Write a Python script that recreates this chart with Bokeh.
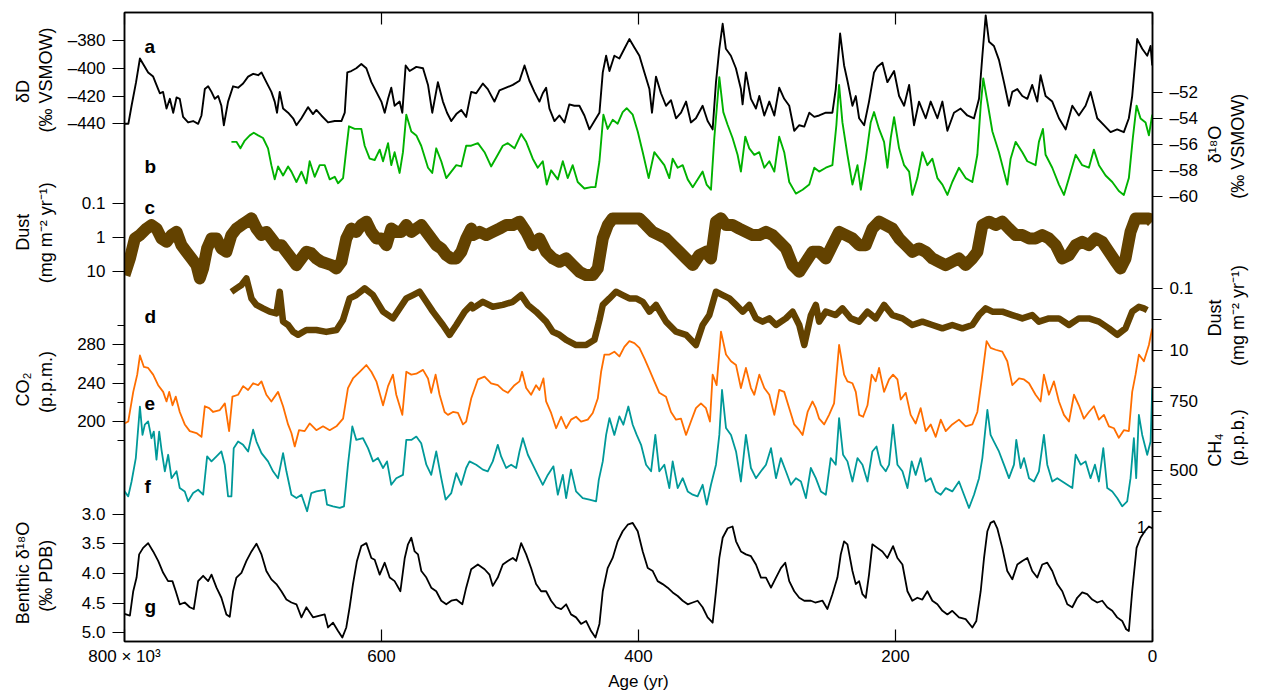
import math
from bokeh.plotting import figure
from bokeh.models import (Range1d, LinearAxis, FixedTicker, Label, LogScale, LinearScale,
                          CustomLabelingPolicy)
from bokeh.embed import file_html
from bokeh.resources import INLINE

# ---------------- data (age in kyr BP, value) ----------------
dD_record = [
(800,-440),(797,-440),(794.5,-427),(791,-410),(788,-393),(785.5,-397),(781.6,-403),(777.7,-406),(773.8,-415),(772.5,-418),
(770,-417),(767.3,-429),(764.7,-422),(762.1,-432),(759.5,-421),(757,-422),(754.4,-435),(750.5,-439),(746.6,-438),(742.7,-440),
(740.1,-434),(737.5,-415),(734.9,-413),(732.3,-417),(729.7,-422),(727.1,-420),(724.6,-427),(722.7,-441),(719.4,-424),(715.5,-413),
(711.6,-414),(707.7,-411),(703.8,-406),(699.9,-404),(696,-405),(693.4,-403),(689.6,-410),(685.7,-417),(683.1,-424),(681.3,-432),
(679.2,-417),(676.6,-429),(672.7,-432),(668.8,-436),(666.2,-441),(662.3,-436),(657.2,-428),(653.3,-433),(650.7,-430),(646.8,-434),
(641.6,-439),(636.4,-438),(631.2,-438),(628.6,-432),(626.6,-403),(623.5,-402),(619.6,-400),(615.7,-397),(611.8,-400),(607.9,-410),
(604,-417),(600.1,-424),(597.5,-432),(594.9,-422),(592.4,-414),(589.8,-427),(585.9,-424),(583.8,-432),(581.2,-398),(578.1,-402),
(572.9,-399),(567.7,-400),(563.8,-412),(560.5,-432),(556.1,-410),(552.2,-424),(549,-432),(545.7,-438),(541.8,-433),(537.9,-430),
(534.1,-435),(530.2,-417),(526.3,-418),(521.1,-411),(517.3,-415),(512.1,-424),(508.2,-416),(503,-414),(497.8,-412),(492.6,-409),
(488.7,-398),(484.9,-409),(481,-417),(477.1,-424),(474.5,-418),(471.9,-414),(469.3,-429),(465.4,-438),(461.5,-434),(457.6,-439),
(453.8,-426),(449.9,-427),(446,-427),(442.1,-434),(438.2,-444),(434.3,-438),(430.4,-432),(427.8,-403),(425.2,-391),(422.6,-402),
(418.8,-391),(414.9,-393),(411,-386),(407.1,-379),(403.2,-385),(399.3,-391),(395.4,-403),(391.5,-415),(389.5,-432),(386.4,-406),
(382.5,-418),(378.6,-427),(374.7,-423),(370.8,-436),(366.9,-432),(363,-424),(359.2,-439),(355.3,-436),(350.1,-427),(346.2,-438),
(342.3,-444),(339.7,-410),(337.1,-386),(334.5,-368),(332,-386),(328.1,-391),(324.2,-400),(320.3,-415),(319,-426),(316.4,-403),
(312.5,-422),(308.6,-429),(306,-420),(302.1,-434),(298.2,-424),(294.3,-434),(290.5,-414),(286.6,-422),(282.7,-427),(278.8,-445),
(274.9,-441),(271,-442),(267.1,-432),(263.2,-435),(259.4,-434),(254.2,-432),(249.1,-432),(246.5,-415),(243.1,-375),(240,-398),
(237.4,-409),(233.5,-427),(230.9,-420),(228.3,-436),(224.4,-441),(220.6,-424),(216.7,-403),(214.1,-399),(210.2,-396),(206.3,-410),
(201.1,-402),(197.2,-420),(193.3,-427),(189.4,-412),(185.6,-441),(181.7,-424),(176.5,-436),(172.6,-424),(167.4,-436),(163.5,-424),
(159.6,-445),(154.5,-432),(149.3,-429),(144.1,-434),(138.9,-436),(135,-422),(132.4,-391),(129.8,-362),(127.2,-381),(123.4,-384),
(119.5,-394),(115.6,-410),(111.7,-427),(109.1,-417),(105.2,-415),(101.3,-420),(97.4,-422),(93.6,-412),(89.7,-424),(87.1,-405),
(83.2,-420),(78,-424),(72.8,-436),(67.6,-444),(62.4,-427),(57.3,-434),(52.1,-427),(48.2,-417),(43,-436),(37.8,-441),
(32.6,-446),(27.5,-444),(22.3,-446),(18.4,-436),(15.8,-420),(11.9,-379),(8,-386),(4.1,-391),(1.5,-384),(0.2,-398)]

d18O_record = [
(716.8,-55.8),(712.9,-55.8),(709.8,-56.3),(706.4,-55.7),(702.5,-55.3),(699.4,-55.1),(696,-55.3),(692.2,-55.5),(688.3,-56.3),(685.7,-57.6),
(683.1,-58.7),(680.5,-57.7),(676.6,-58.4),(672.7,-57.7),(670.1,-58.1),(666.2,-58.9),(662.3,-58.1),(658.5,-59.0),(655.9,-57.3),(652,-58.5),
(648.1,-57.6),(644.2,-57.6),(640.3,-58.7),(636.4,-58.5),(633.8,-59.0),(629.9,-58.6),(627.3,-56.3),(625.3,-54.6),(620.9,-54.8),(615.7,-54.8),
(613.1,-56.1),(609.2,-57.1),(605.3,-57.2),(601.4,-56.4),(598.8,-57.3),(594.9,-55.9),(592.4,-57.6),(589.8,-56.6),(585.9,-58.2),(583.3,-56.6),
(580.7,-53.7),(576.8,-55.0),(572.9,-55.3),(569.1,-56.1),(563.8,-57.8),(560.5,-58.2),(557.4,-56.3),(553.5,-57.3),(549.6,-58.6),(545.7,-58.1),
(541.8,-57.6),(537.9,-57.7),(534.1,-56.1),(530.2,-56.1),(525,-55.9),(519.8,-56.6),(514.7,-57.7),(509.5,-56.8),(505.6,-56.1),(501.7,-55.9),
(496.5,-56.3),(491.3,-55.2),(487.4,-55.8),(482.3,-57.1),(478.4,-57.8),(474.5,-57.3),(471.4,-59.1),(468,-58.0),(462.8,-58.7),(458.9,-57.3),
(455.1,-58.6),(451.2,-57.6),(447.3,-58.9),(442.1,-59.4),(436.9,-59.3),(433.5,-59.3),(430.4,-57.3),(427.3,-53.7),(424,-54.8),(420.1,-54.1),
(416.2,-54.4),(412.3,-53.5),(409.2,-53.2),(404.5,-53.7),(400.6,-55.0),(396.7,-56.6),(392.1,-58.6),(387.7,-56.6),(383.8,-57.1),(379.9,-57.6),
(376,-58.6),(373.4,-57.1),(369.5,-57.8),(365.6,-57.6),(361.7,-58.7),(357.8,-59.3),(354,-58.7),(350.1,-58.1),(347,-59.1),(343.6,-59.5),
(341,-55.5),(337.1,-50.8),(334,-53.5),(330.6,-54.5),(326.8,-55.5),(322.9,-56.8),(320.3,-58.1),(316.9,-55.4),(313.8,-56.3),(309.9,-56.8),
(306,-56.6),(302.1,-57.8),(298.2,-57.3),(294.3,-58.1),(290.5,-55.4),(286.6,-56.6),(282.7,-58.9),(277.5,-59.8),(272.3,-59.5),(267.1,-59.1),
(263.2,-57.8),(259.4,-58.1),(254.2,-57.8),(249.1,-57.6),(246,-54.5),(243.9,-51.4),(241.3,-54.3),(237.4,-56.8),(233.5,-59.1),(229.6,-57.6),
(227,-59.5),(223.1,-57.1),(219.3,-54.3),(216.7,-53.5),(212.8,-54.8),(208.9,-55.8),(206.3,-57.8),(203.7,-55.5),(201.1,-53.9),(197.2,-56.3),
(193.3,-57.6),(189.4,-58.1),(186.9,-59.9),(183,-58.6),(179.1,-56.6),(175.2,-57.6),(171.3,-57.1),(167.4,-58.6),(163.5,-59.1),(159.6,-59.9),
(155.8,-58.9),(150.6,-57.8),(145.4,-58.6),(140.2,-58.9),(136.3,-56.8),(133.7,-53.0),(131.7,-50.9),(128.5,-52.7),(124.6,-55.0),(119.5,-56.6),
(115.6,-58.1),(113,-59.1),(110.4,-57.1),(106.5,-55.8),(101.3,-56.6),(97.4,-57.3),(91,-57.6),(88.4,-55.8),(85.3,-54.8),(83.2,-56.8),
(78,-57.8),(72.8,-59.1),(68.9,-59.9),(65,-58.6),(59.8,-56.8),(54.7,-57.6),(49.5,-57.8),(45.6,-56.4),(41.7,-57.6),(36.5,-58.4),
(31.3,-58.9),(26.2,-59.6),(22.3,-59.9),(18.4,-58.6),(15.3,-55.5),(12.4,-53.0),(9.3,-54.0),(5.4,-54.3),(2.8,-55.3),(0.2,-53.7)]

dust_c_record = [
(800,13.1),(795.8,4.24),(791.9,1.09),(788,0.87),(782.9,0.56),(779,0.44),(775.1,0.56),(771.2,1.09),(767.3,1.37),(763.4,0.87),
(759.5,0.70),(755.7,1.72),(751.8,2.70),(747.9,4.24),(744,6.67),(741.4,16.4),(738.8,8.36),(735.7,2.15),(732.3,1.09),(728.4,1.09),
(724.6,2.15),(720.7,2.70),(716.8,0.87),(712.9,0.56),(709,0.44),(705.1,0.35),(701.2,0.28),(697.3,0.56),(693.4,0.87),(689.6,0.70),
(685.7,1.09),(681.8,1.72),(677.9,1.72),(674,2.70),(670.1,4.24),(666.2,6.67),(662.3,4.24),(658.5,2.70),(654.6,3.0),(650.7,4.24),
(646.8,5.31),(642.9,5.94),(639,6.67),(635.1,8.36),(631.2,5.31),(627.4,1.09),(623.5,0.56),(619.6,0.70),(615.7,0.44),(611.8,0.35),
(607.9,0.70),(604,1.09),(600.1,1.09),(596.2,1.72),(592.4,0.56),(588.5,0.70),(584.6,0.70),(580.7,0.44),(576.8,0.70),(572.9,0.56),
(569,0.44),(565.1,0.70),(561.3,1.09),(557.4,1.72),(553.5,2.15),(549.6,3.38),(545.7,4.24),(541.8,4.24),(537.9,2.70),(534,1.09),
(530.2,0.56),(528.9,0.87),(523.7,0.70),(518.5,0.87),(513.4,0.70),(508.2,0.56),(503,0.44),(497.8,0.44),(492.6,0.35),(487.4,0.70),
(482.3,1.72),(477.1,1.09),(471.9,2.70),(466.7,4.24),(461.5,5.31),(456.3,4.24),(451.2,6.67),(446,10.5),(440.8,13.1),(435.6,13.1),
(431.7,8.36),(427.8,1.09),(423.9,0.44),(420.1,0.28),(414.9,0.28),(409.7,0.28),(404.5,0.28),(399.3,0.28),(394.1,0.44),(389,0.70),
(383.8,0.87),(378.6,1.09),(373.4,1.72),(368.2,2.70),(363,4.24),(357.8,6.67),(352.7,3.38),(347.5,2.70),(343.6,4.24),(339.7,0.35),
(335.8,0.28),(331.9,0.44),(326.8,0.44),(321.6,0.56),(316.4,0.70),(311.2,0.87),(306,0.87),(300.8,0.70),(295.6,0.87),(290.5,1.37),
(285.3,2.15),(280.1,6.67),(274.9,10.5),(269.7,5.31),(264.6,2.70),(259.4,2.70),(254.2,4.24),(249.1,1.72),(243.9,0.70),(238.7,0.87),
(233.5,1.09),(228.3,1.72),(223.1,1.72),(218,0.56),(212.8,0.35),(207.6,0.44),(202.4,0.56),(197.2,1.09),(192,1.72),(186.9,2.70),
(181.7,2.15),(176.5,2.70),(171.3,4.24),(166.1,5.31),(161,6.67),(155.8,5.31),(150.6,4.24),(145.4,6.67),(140.2,4.24),(136.3,2.70),
(132.4,0.44),(127.2,0.35),(122.1,0.44),(116.9,0.35),(111.7,0.56),(106.5,0.87),(101.3,0.87),(96.1,1.09),(91,1.09),(85.8,0.87),
(80.6,1.09),(75.4,1.72),(70.2,4.24),(65,3.38),(59.8,1.72),(54.7,1.37),(49.5,1.72),(44.3,1.09),(39.1,1.37),(33.9,2.70),
(28.7,5.31),(24.9,8.36),(21,4.24),(17.1,0.70),(13.2,0.28),(8,0.28),(2.8,0.28),(0.2,0.35)]

dust_d_record = [
(716.8,0.13),(712.9,0.10),(709,0.078),(705.1,0.048),(701.2,0.21),(697.3,0.34),(692.2,0.44),(687,0.56),(681.8,0.64),(679.2,0.128),
(676.6,1.17),(672.7,1.5),(668.8,2.46),(665,3.1),(658.5,2.17),(650.7,2.17),(643,2.5),(635,2.17),(630,1.04),(624.8,0.21),
(619.6,0.164),(613.1,0.10),(606.6,0.164),(598.8,0.56),(591.1,0.92),(585.9,0.44),(580.7,0.21),(575.5,0.164),(570.3,0.128),(565.1,0.27),
(560,0.56),(552.2,1.5),(547,3.1),(541.8,1.5),(535.3,0.56),(530.2,0.34),(528.9,0.44),(521.1,0.27),(513.4,0.39),(505.6,0.34),
(497.8,0.27),(491.3,0.164),(486.1,0.34),(479.7,0.56),(471.9,1.17),(466.7,2.46),(461.5,3.1),(456.3,4.5),(448.6,6.6),(440.8,6.6),
(434.3,4.5),(430.4,1.04),(427.8,0.34),(422.6,0.21),(417.5,0.128),(412.3,0.164),(407.1,0.21),(401.9,0.21),(396.7,0.27),(391.5,0.56),
(386.4,0.34),(378.6,1.17),(370.8,2.46),(363,3.1),(355.3,6.6),(350.1,1.5),(344.9,0.72),(339.7,0.128),(334.5,0.164),(329.3,0.21),
(324.1,0.34),(318.9,0.56),(313.8,0.34),(308.6,0.92),(303.4,1.17),(298.2,0.92),(293,1.5),(285.3,0.92),(280.1,0.56),(274.9,1.5),
(271,6.6),(265.8,0.72),(262,0.34),(259.4,1.17),(254.2,0.56),(246.5,0.72),(241.3,0.44),(234.8,0.92),(228.3,1.17),(221.8,0.56),
(215.4,0.92),(208.9,0.34),(202.4,0.72),(194.6,0.92),(186.9,1.5),(179.1,1.17),(171.3,1.5),(163.5,1.92),(155.8,1.5),(148,1.92),
(140.2,1.5),(135,0.72),(129.8,0.44),(124.6,0.56),(116.9,0.56),(109.1,0.72),(101.3,0.92),(93.6,0.72),(88.4,1.17),(80.6,0.92),
(72.8,0.92),(65,1.5),(57.3,0.92),(49.5,0.92),(41.7,1.17),(33.9,1.92),(27.5,3.1),(21,1.92),(15.8,0.56),(10.6,0.39),
(6.7,0.44),(4.1,0.5)]

co2_record = [
(800,198),(797.1,200),(793.2,231),(790.1,249),(788,269),(784.9,257),(781.6,256),(777.7,249),(773.8,238),(769.9,231),
(767.3,221),(765.2,231),(762.6,217),(760.1,226),(757,210),(753.1,197),(749.2,190),(744,188),(740.1,184),(737.5,216),
(734.1,214),(731,210),(725.8,212),(721.9,219),(718.6,190),(716,226),(711.6,228),(707.7,237),(703.8,233),(699.9,240),
(696,238),(693.4,242),(689.6,228),(685.7,221),(680.5,231),(676.6,216),(672.7,197),(670.1,188),(667.5,174),(664.2,191),
(659.8,190),(655.9,198),(650.7,191),(645.5,195),(640.3,191),(635.1,195),(629.9,203),(626.1,235),(622.2,245),(617,252),
(611.8,259),(607.9,252),(604,242),(598.8,217),(594.9,237),(591.1,249),(588.5,228),(583.8,207),(580.7,252),(576.8,249),
(572.9,250),(567.7,254),(563.8,245),(561.3,230),(557.9,249),(554.8,228),(550.9,210),(548.3,207),(544.4,210),(540.5,209),
(536.6,197),(534.1,200),(530.2,224),(525,244),(519.8,247),(514.7,240),(509.5,238),(505.6,233),(501.7,230),(496.5,238),
(492.6,242),(490.6,252),(487.4,235),(483.6,228),(479.7,238),(477.1,233),(474,245),(471.9,221),(468,209),(464.1,193),
(460.2,205),(456.3,193),(452.5,202),(448.6,205),(444.7,200),(439.5,202),(435.6,209),(431.7,224),(429.1,252),(426.5,270),
(422.6,270),(418.8,273),(414.9,268),(411,278),(407.1,284),(403.2,282),(399.3,277),(395.4,266),(391.5,254),(387.7,242),
(383.8,230),(378.6,226),(374.7,210),(370.8,202),(366.9,203),(363,186),(359.2,200),(355.3,214),(351.4,219),(347.5,214),
(344.4,200),(342.3,249),(339.2,238),(335.8,294),(331.9,270),(328,263),(324.1,259),(320.3,235),(316.4,256),(312.5,235),
(309.9,228),(306,249),(302.1,235),(298.2,228),(294.3,207),(290.5,233),(286.6,231),(282.7,214),(278.8,197),(274.9,191),
(272.3,186),(268.4,210),(264.6,221),(262,214),(259.4,203),(255.5,197),(251.7,207),(247.8,219),(243.9,280),(240,249),
(237.4,242),(233.5,240),(230.9,231),(228.3,207),(225.2,205),(221.8,217),(218.5,249),(215.4,242),(212.8,256),(208.9,231),
(205,244),(201.9,249),(198.5,244),(195.9,223),(192,230),(188.2,207),(184.3,198),(180.4,214),(176.5,190),(172.6,197),
(168.7,184),(164.8,202),(160.9,190),(155.8,197),(150.6,202),(145.4,195),(140.2,197),(136.3,210),(132.4,249),(129.1,284),
(126,277),(122.1,275),(116.9,273),(113,263),(109.1,238),(103.9,245),(100,244),(96.1,240),(91,228),(87.1,221),
(84.5,249),(80.6,228),(76.7,242),(72.8,221),(68.9,207),(65,200),(61.1,228),(57.3,217),(53.4,203),(49.5,210),
(45.6,216),(41.7,202),(37.8,207),(33.9,195),(30,193),(26.2,183),(22.3,191),(18.4,190),(15.8,231),(13.2,249),
(10.6,270),(6.7,263),(2.8,280),(0.3,297)]

ch4_record = [
(800,424),(797.1,406),(794.5,460),(791.2,545),(788,732),(786,629),(784.2,666),(781.6,678),(779,617),(777.2,641),
(775.1,539),(773,641),(771.2,575),(768.6,497),(766,557),(763.4,472),(759.5,497),(757,436),(753.1,424),(750.5,388),
(746.6,418),(742.7,430),(738.8,412),(735.7,551),(732.3,533),(728.4,551),(724.6,569),(722,521),(719.4,406),(716.8,406),
(715,581),(711.6,605),(707.7,593),(703.8,569),(699.9,648),(697.3,605),(693.4,563),(688.3,533),(684.4,497),(680.5,472),
(676.6,563),(674,497),(670.1,412),(666.2,400),(662.3,412),(657.9,352),(654.6,418),(650.7,424),(644.2,430),(642.4,376),
(637.7,370),(632.5,364),(629.2,370),(626.1,521),(622.7,660),(619.6,611),(614.4,617),(610.5,581),(606.6,533),(602.7,545),
(598.8,509),(595.7,533),(592.4,448),(588.5,472),(583.3,484),(580.7,611),(576.8,611),(572.9,623),(569.1,599),(565.1,521),
(561.3,484),(557.4,569),(553.5,472),(550.1,394),(545.7,418),(541.8,490),(537.9,448),(534.1,509),(531.5,533),(526.3,521),
(521.1,503),(517.3,497),(513.4,533),(509.5,593),(506.9,551),(503,509),(499.1,521),(495.2,509),(492.6,569),(490,617),
(486.1,557),(482.3,521),(478.4,484),(474.5,448),(470.6,484),(466.2,515),(462.8,412),(458.9,484),(456.3,400),(452.5,503),
(448.6,424),(443.4,400),(438.2,394),(433,388),(430.9,466),(427.8,533),(425.2,629),(422.6,690),(418.8,629),(414.9,696),
(411.8,666),(407.9,732),(404.5,666),(401.4,629),(398,593),(394.1,521),(390.2,497),(386.9,629),(383.8,497),(379.9,521),
(376,436),(373.4,533),(369.5,436),(365.6,472),(361.7,424),(357.8,412),(354,406),(350.1,448),(346.9,376),(343.6,448),
(339.7,521),(337.1,629),(335,792),(331.9,654),(328,629),(324.1,569),(320.3,460),(316.4,629),(312.5,509),(308.6,472),
(304.7,497),(300.8,521),(296.9,581),(293,472),(289.2,545),(285.3,497),(281.4,448),(277.5,472),(273.6,460),(269.7,400),
(265.9,509),(262,472),(258.1,424),(254.2,412),(250.4,545),(246.5,521),(243.9,690),(240.8,557),(237.4,533),(233.5,460),
(229.6,545),(225.7,521),(221.8,460),(218,569),(214.8,587),(211.5,521),(207.6,497),(205,521),(201.9,666),(198.5,521),
(194.6,497),(190.7,436),(187.4,533),(184.3,484),(180.4,545),(176.5,460),(172.6,472),(168.7,424),(164.8,412),(160.9,436),
(155.8,424),(150.6,460),(146.7,412),(142.8,364),(138.9,412),(135,472),(132.4,545),(128.5,720),(126,629),(123.4,605),
(119.5,569),(115.6,521),(111.7,472),(107.8,521),(106,611),(102.6,509),(100,545),(96.1,472),(92.2,460),(88.4,497),
(84.5,629),(81.9,521),(78,460),(74.1,472),(70.2,460),(66.3,448),(62.4,436),(59.8,557),(55.9,521),(52.1,533),
(48.2,472),(44.8,521),(41.7,460),(38.3,581),(35.2,436),(31.3,424),(27.5,400),(23.6,370),(19.7,388),(17.1,472),
(14.5,617),(12.7,472),(10.6,702),(8,629),(4.1,557),(1.5,605),(0.2,798)]

benthic_record = [
(800,4.68),(795.8,4.71),(793.2,4.30),(790.6,4.07),(788.6,3.68),(785.5,3.57),(781.6,3.49),(777.7,3.63),(773.8,3.79),(769.9,3.99),
(766.1,4.13),(762.7,4.13),(760.1,4.30),(757,4.52),(753.1,4.49),(749.2,4.57),(746.1,4.60),(742.7,4.13),(738.8,4.04),(734.9,4.13),
(732.3,4.02),(728.4,4.24),(724.6,4.41),(720.7,4.69),(718.1,4.73),(715.5,4.30),(712.9,4.07),(709,3.99),(705.1,3.79),(701.2,3.63),
(697.3,3.50),(693.4,3.68),(689.6,3.96),(685.7,4.10),(681.8,4.18),(677.9,4.30),(674,4.44),(670.1,4.49),(666.2,4.52),(662.3,4.74),
(658.5,4.57),(653.3,4.74),(648.1,4.71),(644.2,4.69),(641.6,4.91),(637.7,4.83),(633.8,4.97),(630.5,5.08),(627.4,4.91),(624.8,4.57),
(622.2,4.18),(619.1,3.79),(615.7,3.54),(611.8,3.49),(607.9,3.74),(605.3,3.77),(601.4,4.02),(597.5,3.82),(593.6,4.07),(589.8,4.13),
(585.3,4.30),(581.9,3.74),(579.4,3.51),(576.8,3.40),(574.2,3.63),(571.6,3.68),(569,3.96),(565.1,4.07),(561.3,4.24),(557.4,4.30),
(553.5,4.46),(549.6,4.52),(545.7,4.46),(541.8,4.44),(537.1,4.52),(534.1,4.24),(530.2,3.93),(525,3.85),(519.8,3.93),(516,4.02),
(513.4,4.21),(509.5,4.07),(505.6,3.85),(501.7,3.79),(497.8,3.74),(495.2,3.79),(491.3,3.49),(487.4,3.68),(483.6,3.91),(479.7,4.18),
(475.8,4.30),(471.9,4.30),(468,4.46),(464.1,4.57),(460.2,4.60),(456.3,4.52),(452.5,4.69),(448.6,4.74),(444.7,4.85),(440.8,4.80),
(436.9,4.97),(433.5,5.08),(430.4,4.85),(427.8,4.30),(424,3.91),(420.1,3.74),(416.2,3.46),(412.3,3.29),(408.4,3.18),(404.5,3.15),
(400.6,3.29),(396.7,3.63),(392.8,3.91),(388.9,3.96),(385.1,4.13),(381.2,4.18),(377.3,4.24),(373.4,4.32),(369.5,4.38),(365.6,4.46),
(361.7,4.52),(357.8,4.49),(354,4.46),(350.1,4.57),(346.2,4.74),(342.3,4.83),(339.7,4.30),(337.1,3.74),(334.5,3.40),(330.6,3.24),
(326.8,3.21),(324.1,3.46),(320.3,3.63),(316.4,3.68),(312.5,3.71),(308.6,3.85),(304.7,4.07),(300.8,4.07),(296.9,4.24),(293,4.07),
(289.2,3.91),(285.8,3.82),(282.7,4.13),(278.8,4.30),(274.9,4.41),(271,4.46),(265.8,4.46),(262.5,4.49),(256.8,4.46),(253,4.60),
(249.1,4.35),(245.2,4.07),(242.6,3.68),(240,3.46),(237.4,3.51),(233.5,3.96),(230.9,4.18),(228.3,4.13),(225.7,4.35),(223.1,4.41),
(220.6,4.02),(218,3.51),(214.1,3.57),(210.2,3.63),(206.3,3.74),(201.9,3.54),(198.5,3.74),(194.6,3.85),(190.7,4.30),(186.9,4.46),
(183,4.41),(179.1,4.44),(175.2,4.30),(171.3,4.46),(167.4,4.52),(163.5,4.63),(159.6,4.69),(155.8,4.63),(150.6,4.74),(145.4,4.77),
(140.2,4.91),(137.1,4.80),(133.7,4.30),(131.1,3.74),(128.5,3.29),(126,3.15),(123.4,3.12),(120.8,3.24),(116.9,3.57),(113,3.96),
(109.1,4.10),(105.2,3.85),(101.3,3.79),(97.4,3.74),(93.6,3.96),(89.7,4.07),(85.8,3.85),(81.9,3.82),(78,3.96),(74.1,4.18),
(70.2,4.30),(66.3,4.52),(62.4,4.57),(58.6,4.41),(54.7,4.32),(50.8,4.35),(46.9,4.44),(43,4.49),(39.1,4.46),(35.2,4.57),
(31.3,4.63),(27.5,4.74),(23.6,4.80),(20.5,4.94),(18.4,4.97),(15.8,4.30),(12.4,3.57),(9.3,3.40),(6,3.29),(2.8,3.21),(0.2,3.24)]

# tick values and their labels
x_ticks = [800, 600, 400, 200, 0]
x_tick_labels = {800: "800 × 10³"}
dD_ticks = [-380, -400, -420, -440]
dust_ticks = [0.1, 10]
dust_minor = [1]
co2_ticks = [280, 240, 200]
co2_minor = [300, 260, 220, 180]
benthic_ticks = [3.0, 3.5, 4.0, 4.5, 5.0]
d18O_ticks = [-52, -54, -56, -58, -60]
ch4_ticks = [750, 500]
ch4_minor = [350, 400, 450, 550, 600, 650, 700, 800]

# ---------------- layout: where each series' scale sits (canvas rows) ----------------
TOP, BOTTOM = 12, 642
CAL = {
    "dD":      ((-380, 40.0), (-440, 123.5), False),
    "d18O":    ((-52, 92.3), (-60, 196.0), False),
    "dust_c":  ((0.1, 203.0), (10, 271.0), True),
    "dust_d":  ((0.1, 288.3), (10, 350.7), True),
    "co2":     ((280, 345.0), (200, 421.7), False),
    "ch4":     ((750, 401.7), (500, 470.7), False),
    "benthic": ((3.0, 514.3), (5.0, 633.3), False),
}

def _lin(name):
    (v1, y1), (v2, y2), lg = CAL[name]
    if lg:
        v1, v2 = math.log10(v1), math.log10(v2)
    return v1, y1, v2, y2, lg

def value_at_row(name, row):
    v1, y1, v2, y2, lg = _lin(name)
    t = v1 + (row - y1) * (v2 - v1) / (y2 - y1)
    return 10 ** t if lg else t

def row_of(name, v):
    v1, y1, v2, y2, lg = _lin(name)
    t = math.log10(v) if lg else v
    return round(y1 + (t - v1) * (y2 - y1) / (v2 - v1), 2)

p = figure(width=1263, height=693, output_backend="svg", toolbar_location=None,
           x_range=Range1d(800, 0), y_range=Range1d(BOTTOM, TOP),
           x_axis_location=None, y_axis_location=None,
           min_border_left=123, min_border_right=111, min_border_top=TOP, min_border_bottom=51)
p.grid.visible = False
p.outline_line_color = "black"
p.outline_line_width = 1.5
p.background_fill_color = "white"
p.border_fill_color = "white"

p.extra_y_ranges = {n: Range1d(value_at_row(n, BOTTOM), value_at_row(n, TOP)) for n in CAL}
p.extra_y_scales = {n: (LogScale() if CAL[n][2] else LinearScale()) for n in CAL}

def unzip(rec):
    return [a for a, _ in rec], [v for _, v in rec]

series = [
    ("dD", dD_record, "black", 1.9),
    ("d18O", d18O_record, "#00b200", 1.9),
    ("dust_c", dust_c_record, "#634200", 12),
    ("dust_d", dust_d_record, "#634200", 6.5),
    ("co2", co2_record, "#ff6e00", 1.8),
    ("ch4", ch4_record, "#009999", 1.8),
    ("benthic", benthic_record, "black", 1.8),
]
for name, rec, col, lw in series:
    xs, ys = unzip(rec)
    p.line(xs, ys, y_range_name=name, line_color=col, line_width=lw, line_join="round")

FONT = "Liberation Sans"
FS = "17px"
TITLE_FS = "18px"

def style_axis(ax):
    ax.axis_line_color = "black"
    ax.axis_line_width = 1.5
    ax.major_tick_line_color = "black"
    ax.minor_tick_line_color = "black"
    ax.major_tick_line_width = 1.2
    ax.minor_tick_line_width = 1.2
    ax.major_label_text_font = FONT
    ax.major_label_text_font_size = FS
    ax.major_label_text_color = "black"
    ax.axis_label_text_font = FONT
    ax.axis_label_text_font_size = FS
    ax.axis_label_text_font_style = "normal"
    ax.axis_label_text_color = "black"

# left composite axis (ticks of a, c, e, g)
left_major, left_labels = [], {}
for name, ticks, fmt in [("dD", dD_ticks, "%d"), ("dust_c", dust_ticks + dust_minor, "%g"),
                         ("co2", co2_ticks, "%d"), ("benthic", benthic_ticks, "%.1f")]:
    for t in ticks:
        r = row_of(name, t)
        left_major.append(r)
        left_labels[r] = (fmt % t).replace("-", "–")
left_minor = [row_of("co2", t) for t in co2_minor]
lax = LinearAxis(ticker=FixedTicker(ticks=left_major, minor_ticks=left_minor),
                 major_label_overrides=left_labels)
style_axis(lax)
lax.major_tick_out = 12
lax.major_tick_in = 0
lax.minor_tick_out = 7
lax.minor_tick_in = 0
lax.major_label_standoff = 7
p.add_layout(lax, "left")

# right composite axis (ticks of b, d, f)
right_major, right_labels = [], {}
for name, ticks, fmt in [("d18O", d18O_ticks, "%d"), ("dust_d", dust_ticks, "%g"), ("ch4", ch4_ticks, "%d")]:
    for t in ticks:
        r = row_of(name, t)
        right_major.append(r)
        right_labels[r] = (fmt % t).replace("-", "–")
right_minor = [row_of("ch4", t) for t in ch4_minor] + [row_of("dust_d", t) for t in dust_minor]
rax = LinearAxis(ticker=FixedTicker(ticks=right_major, minor_ticks=right_minor),
                 major_label_overrides=right_labels)
style_axis(rax)
rax.major_tick_out = 10
rax.major_tick_in = 0
rax.minor_tick_out = 9
rax.minor_tick_in = 0
rax.major_label_standoff = 7
p.add_layout(rax, "right")

# axis titles, set as rotated tick labels of bare axes so they sit in the margins
def title_axis(side, rows_texts, standoff):
    ax = LinearAxis(ticker=FixedTicker(ticks=[r for r, _ in rows_texts], minor_ticks=[]),
                    major_label_overrides={r: t for r, t in rows_texts})
    ax.axis_line_color = None
    ax.major_tick_line_color = None
    ax.minor_tick_line_color = None
    ax.major_tick_out = 0
    ax.major_tick_in = 0
    ax.minor_tick_out = 0
    ax.minor_tick_in = 0
    ax.major_label_orientation = math.pi / 2
    ax.major_label_standoff = standoff
    ax.major_label_text_font = FONT
    ax.major_label_text_font_size = TITLE_FS
    ax.major_label_text_color = "black"
    p.add_layout(ax, side)

# left side: rotated labels hang downward from their anchor row
title_axis("left", [(27, "(‰ VSMOW)"), (182, "(mg m⁻² yr⁻¹)"), (351, "(p.p.m.)"), (540, "(‰ PDB)")], 18)
title_axis("left", [(79.5, "δD"), (213.5, "Dust"), (372.5, "CO₂"), (522, "Benthic δ¹⁸O")], 0)
# right side: rotated labels rise upward from their anchor row
title_axis("right", [(163, "δ¹⁸O"), (336.5, "Dust"), (467, "CH₄")], 15)
title_axis("right", [(198.5, "(‰ VSMOW)"), (366, "(mg m⁻² yr⁻¹)"), (466.5, "(p.p.b.)")], 0)

# bottom & top age axes
bax = LinearAxis(ticker=FixedTicker(ticks=x_ticks), major_label_overrides=x_tick_labels,
                 axis_label="Age (yr)")
style_axis(bax)
bax.major_tick_in = 12
bax.major_tick_out = 0
bax.minor_tick_out = 0
bax.minor_tick_in = 0
bax.major_label_standoff = 5
bax.axis_label_standoff = 3
p.add_layout(bax, "below")

tax = LinearAxis(ticker=FixedTicker(ticks=x_ticks),
                 major_label_policy=CustomLabelingPolicy(code="return []"))
style_axis(tax)
tax.major_tick_in = 12
tax.major_tick_out = 0
tax.minor_tick_in = 0
tax.minor_tick_out = 0
tax.major_label_text_font_size = "0px"
tax.major_label_standoff = 0
p.add_layout(tax, "above")

for letter, base in [("a", 46), ("b", 166.7), ("c", 207), ("d", 316.7), ("e", 403.3), ("f", 486.7), ("g", 606.7)]:
    p.add_layout(Label(x=20, y=base, x_units="screen", y_units="data", text=letter,
                       text_align="left", text_baseline="alphabetic", text_font=FONT,
                       text_font_size="19px", text_font_style="bold", text_color="black"))

p.add_layout(Label(x=8.6, y=527, x_units="data", y_units="data", text="1", text_align="center",
                   text_baseline="alphabetic", text_font=FONT, text_font_size="16px", text_color="black"))

open("out.html", "w").write(file_html(p, INLINE))
